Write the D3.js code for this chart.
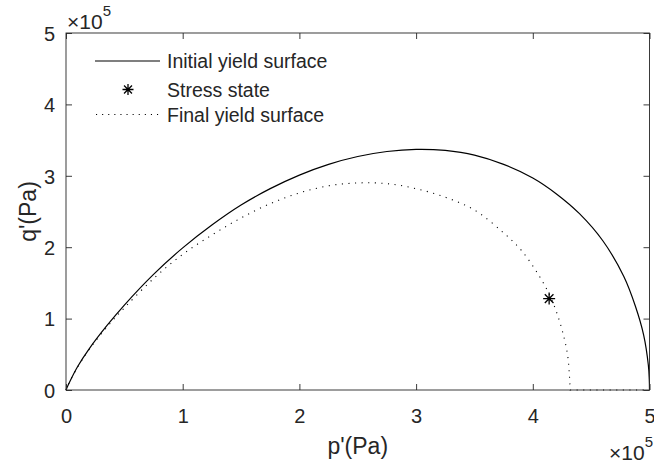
<!DOCTYPE html>
<html>
<head>
<meta charset="utf-8">
<script src="https://cdn.jsdelivr.net/npm/d3@7"></script>
<style>
  html, body { margin: 0; padding: 0; background: #fff; }
  svg { display: block; }
  text { font-family: "Liberation Sans", Arial, Helvetica, sans-serif; fill: #262626; }
</style>
</head>
<body>
<svg id="chart" width="654" height="463"></svg>
<script>
// Yield surfaces in the p'-q' plane (values in Pa)
const initialP = [0, 0.01e5, 0.03e5, 0.1e5, 0.2e5, 0.35e5, 0.5e5, 0.75e5, 1.0e5, 1.25e5, 1.5e5, 1.75e5, 2.0e5, 2.25e5, 2.5e5, 2.75e5, 3.0e5, 3.25e5, 3.5e5, 3.75e5, 4.0e5, 4.2e5, 4.4e5, 4.6e5, 4.78e5, 4.88e5, 4.95e5, 4.99e5, 4.998e5, 5.0e5];
const initialQ = [0, 0.04e5, 0.11e5, 0.33e5, 0.58e5, 0.90e5, 1.19e5, 1.62e5, 1.99e5, 2.31e5, 2.59e5, 2.82e5, 3.01e5, 3.16e5, 3.27e5, 3.34e5, 3.37e5, 3.355e5, 3.29e5, 3.16e5, 2.97e5, 2.75e5, 2.47e5, 2.09e5, 1.59e5, 1.17e5, 0.77e5, 0.35e5, 0.15e5, 0];

const finalP = [0, 0.01e5, 0.03e5, 0.1e5, 0.2e5, 0.35e5, 0.5e5, 0.75e5, 1.0e5, 1.25e5, 1.5e5, 1.75e5, 2.0e5, 2.25e5, 2.5e5, 2.75e5, 3.0e5, 3.25e5, 3.5e5, 3.75e5, 3.9e5, 4.05e5, 4.15e5, 4.22e5, 4.27e5, 4.30e5, 4.312e5, 4.318e5, 4.32e5, 5.0e5];
const finalQ = [0, 0.04e5, 0.11e5, 0.32e5, 0.57e5, 0.88e5, 1.15e5, 1.56e5, 1.90e5, 2.17e5, 2.41e5, 2.61e5, 2.76e5, 2.86e5, 2.90e5, 2.89e5, 2.82e5, 2.70e5, 2.52e5, 2.20e5, 1.96e5, 1.61e5, 1.31e5, 1.01e5, 0.72e5, 0.47e5, 0.25e5, 0.08e5, 0, 0];

const stressP = [4.14e5];
const stressQ = [1.28e5];

const xTicks = [0, 1e5, 2e5, 3e5, 4e5, 5e5];
const yTicks = [0, 1e5, 2e5, 3e5, 4e5, 5e5];
const tickLabels = ["0", "1", "2", "3", "4", "5"];
const legendLabels = ["Initial yield surface", "Stress state", "Final yield surface"];

const svg = d3.select("#chart");
const mLeft = 66, mRight = 649.5, mTop = 33, mBottom = 390;
const x = d3.scaleLinear().domain([0, 5e5]).range([mLeft, mRight]);
const y = d3.scaleLinear().domain([0, 5e5]).range([mBottom, mTop]);
const axisColor = "#262626";

svg.append("rect").attr("width", 654).attr("height", 463).attr("fill", "#fff");

// Curves: smooth through the surface points, straight along the p' axis
const smooth = d3.line().x(d => x(d[0])).y(d => y(d[1])).curve(d3.curveCatmullRom.alpha(0.5));
const straight = d3.line().x(d => x(d[0])).y(d => y(d[1]));
const initialPts = initialP.map((p, i) => [p, initialQ[i]]);
const finalPts = finalP.map((p, i) => [p, finalQ[i]]);
const finalCurve = finalPts.slice(0, -1);
const finalTail = finalPts.slice(-2);

svg.append("path").attr("d", smooth(initialPts))
  .attr("fill", "none").attr("stroke", "#000").attr("stroke-width", 1.2);
svg.append("path").attr("d", smooth(finalCurve) + straight(finalTail).replace(/^M/, "L"))
  .attr("fill", "none").attr("stroke", "#000").attr("stroke-width", 1.1)
  .attr("stroke-dasharray", "1.1 5.5");

// Asterisk marker
function asterisk(g, cx, cy, r) {
  const d = r * 0.72;
  const p = `M${cx - r},${cy}L${cx + r},${cy}M${cx},${cy - r}L${cx},${cy + r}` +
            `M${cx - d},${cy - d}L${cx + d},${cy + d}M${cx - d},${cy + d}L${cx + d},${cy - d}`;
  g.append("path").attr("d", p).attr("stroke", "#000").attr("stroke-width", 1.3).attr("fill", "none");
}
stressP.forEach((p, i) => asterisk(svg, x(p), y(stressQ[i]), 6));

// Axes box with inward ticks on all sides
const axes = svg.append("g");
const tickLen = 6;
const bx = d3.axisBottom(x).tickValues(xTicks).tickSize(-tickLen).tickFormat((d, i) => tickLabels[i]);
const tx = d3.axisTop(x).tickValues(xTicks).tickSize(-tickLen).tickFormat("");
const ly = d3.axisLeft(y).tickValues(yTicks).tickSize(-tickLen).tickFormat((d, i) => tickLabels[i]);
const ry = d3.axisRight(y).tickValues(yTicks).tickSize(-tickLen).tickFormat("");

function styleAxis(g) {
  g.select(".domain").remove();
  g.selectAll(".tick line").attr("stroke", axisColor).attr("stroke-width", 0.9);
  g.selectAll(".tick text").attr("fill", axisColor)
    .style("font-family", '"Liberation Sans", Arial, sans-serif').style("font-size", "20px");
}
axes.append("g").attr("transform", `translate(0,${mBottom})`).call(bx).call(styleAxis)
  .selectAll(".tick text").attr("y", 0).attr("dy", "32.5px");
axes.append("g").attr("transform", `translate(0,${mTop})`).call(tx).call(styleAxis);
axes.append("g").attr("transform", `translate(${mLeft},0)`).call(ly).call(styleAxis)
  .selectAll(".tick text").attr("x", -11).attr("dy", "0.36em");
axes.append("g").attr("transform", `translate(${mRight},0)`).call(ry).call(styleAxis);

axes.append("rect").attr("x", mLeft).attr("y", mTop).attr("width", mRight - mLeft).attr("height", mBottom - mTop)
  .attr("fill", "none").attr("stroke", axisColor).attr("stroke-width", 0.9);

// Axis labels
svg.append("text").attr("x", (mLeft + mRight) / 2).attr("y", 454).attr("text-anchor", "middle")
  .style("font-size", "23px").text("p'(Pa)");
svg.append("text").attr("transform", `translate(36,${(mTop + mBottom) / 2}) rotate(-90)`)
  .attr("text-anchor", "middle").style("font-size", "23px").text("q'(Pa)");

// Exponent multipliers
function exponent(xPos, yPos, anchor) {
  const t = svg.append("text").attr("x", xPos).attr("y", yPos).attr("text-anchor", anchor)
    .style("font-size", "21px");
  t.append("tspan").text("\u00d710");
  t.append("tspan").attr("dy", -13).style("font-size", "15px").text("5");
}
exponent(mLeft + 1, 29, "start");
exponent(653, 459.5, "end");

// Legend
const legend = svg.append("g");
const rows = [61, 89.5, 114.5];
legend.append("line").attr("x1", 95).attr("x2", 160).attr("y1", rows[0]).attr("y2", rows[0])
  .attr("stroke", "#000").attr("stroke-width", 1.2);
asterisk(legend, 128, rows[1], 5.5);
legend.append("line").attr("x1", 96).attr("x2", 160).attr("y1", rows[2]).attr("y2", rows[2])
  .attr("stroke", "#000").attr("stroke-width", 1.1).attr("stroke-dasharray", "1.1 5");
legendLabels.forEach((lab, i) => {
  legend.append("text").attr("x", 167).attr("y", rows[i] + 7).style("font-size", "19.5px")
    .attr("fill", "#000").text(lab);
});
</script>
</body>
</html>
